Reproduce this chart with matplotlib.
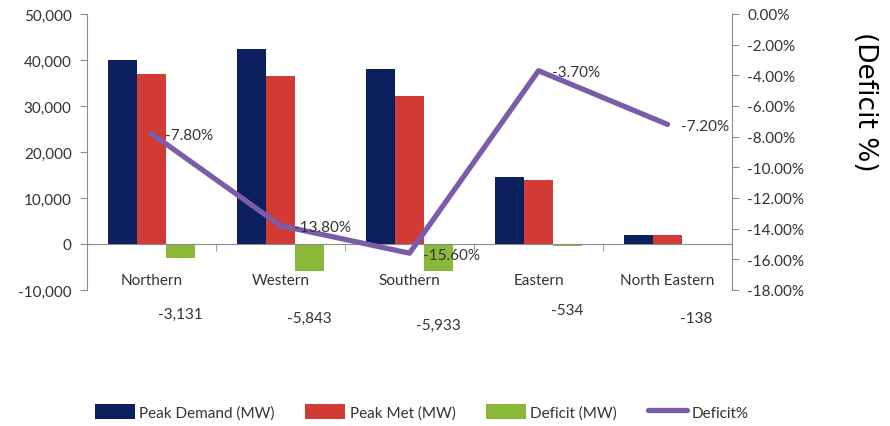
import matplotlib
matplotlib.use('Agg')
import matplotlib.pyplot as plt
import numpy as np
from matplotlib.ticker import FuncFormatter, FixedLocator

regions = ['Northern', 'Western', 'Southern', 'Eastern', 'North Eastern']
peak_demand = [40000, 42350, 38000, 14500, 2000]
peak_met = [36869, 36507, 32067, 13966, 1862]
deficit_mw = [-3131, -5843, -5933, -534, -138]
deficit_pct = [-7.8, -13.8, -15.6, -3.7, -7.2]

navy = '#0c1f5e'
red = '#d23a36'
green = '#8ab93a'
purple = '#7b5ca8'
grey = '#8c8c8c'
txt = '#333333'

plt.rcParams['font.family'] = ['Liberation Sans Narrow', 'Lato', 'DejaVu Sans']

fig = plt.figure(figsize=(8.9, 4.27), dpi=100)
ax = fig.add_axes([87 / 890, 1 - 291 / 427, 645 / 890, 276 / 427])
ax2 = ax.twinx()

x = np.arange(len(regions))
w = 0.225
ax.bar(x - w, peak_demand, w, color=navy, label='Peak Demand (MW)')
ax.bar(x, peak_met, w, color=red, label='Peak Met (MW)')
ax.bar(x + w, deficit_mw, w, color=green, label='Deficit (MW)')

ax.set_xlim(-0.5, len(regions) - 0.5)
ax.set_ylim(-10000, 50000)
ax.set_yticks(np.arange(-10000, 50001, 10000))
ax.yaxis.set_major_formatter(FuncFormatter(lambda v, p: f'{int(v):,}'))

for s in ['top', 'right']:
    ax.spines[s].set_visible(False)
ax.spines['left'].set_color(grey)
ax.spines['bottom'].set_color(grey)
ax.spines['bottom'].set_position(('data', 0))
ax.tick_params(axis='y', colors=grey, labelcolor=txt, labelsize=11, length=5, pad=6)

ax.set_xticks(x)
ax.set_xticklabels(regions)
ax.xaxis.set_minor_locator(FixedLocator(np.arange(0.5, len(regions) - 0.5, 1)))
ax.tick_params(axis='x', which='major', length=0, pad=21, labelsize=11, labelcolor=txt)
ax.tick_params(axis='x', which='minor', length=5, color=grey, direction='out')

# deficit value labels sit a little unevenly below the categories
label_drop = [0, 3, 8, -3, 3]
for xi, d, dy in zip(x, deficit_mw, label_drop):
    ax.annotate(f'{d:,}', (xi + w, -15200), xytext=(0, -dy), textcoords='offset points',
                ha='center', va='center', fontsize=11, color=txt, annotation_clip=False)

ax2.plot(x, deficit_pct, color=purple, lw=3.8, solid_capstyle='round',
         solid_joinstyle='round', label='Deficit%')
ax2.set_ylim(-18, 0)
ax2.set_yticks(np.arange(-18, 0.1, 2))
ax2.yaxis.set_major_formatter(FuncFormatter(lambda v, p: f'{v:.2f}%' if v != 0 else '0.00%'))
for s in ['top', 'left', 'bottom']:
    ax2.spines[s].set_visible(False)
ax2.spines['right'].set_color(grey)
ax2.tick_params(axis='y', colors=grey, labelcolor=txt, labelsize=11, length=5, pad=6)

for xi, p in zip(x, deficit_pct):
    ax2.annotate(f'{p:.2f}%', (xi, p), xytext=(10, -1), textcoords='offset points',
                 ha='left', va='center', fontsize=11, color=txt)

fig.text(865 / 890, 1 - 102 / 427, '(Deficit %)', rotation=270, ha='center', va='center',
         fontsize=19, color='black', family=['DejaVu Sans'])

h1, l1 = ax.get_legend_handles_labels()
h2, l2 = ax2.get_legend_handles_labels()
fig.legend(h1 + h2, l1 + l2, loc='center', bbox_to_anchor=(422 / 890, 1 - 413 / 427),
           ncol=4, frameon=False, fontsize=11, handlelength=2.6, handleheight=1.1,
           columnspacing=2.0, handletextpad=0.3, labelcolor=txt)

fig.savefig('out.png', dpi=100)
